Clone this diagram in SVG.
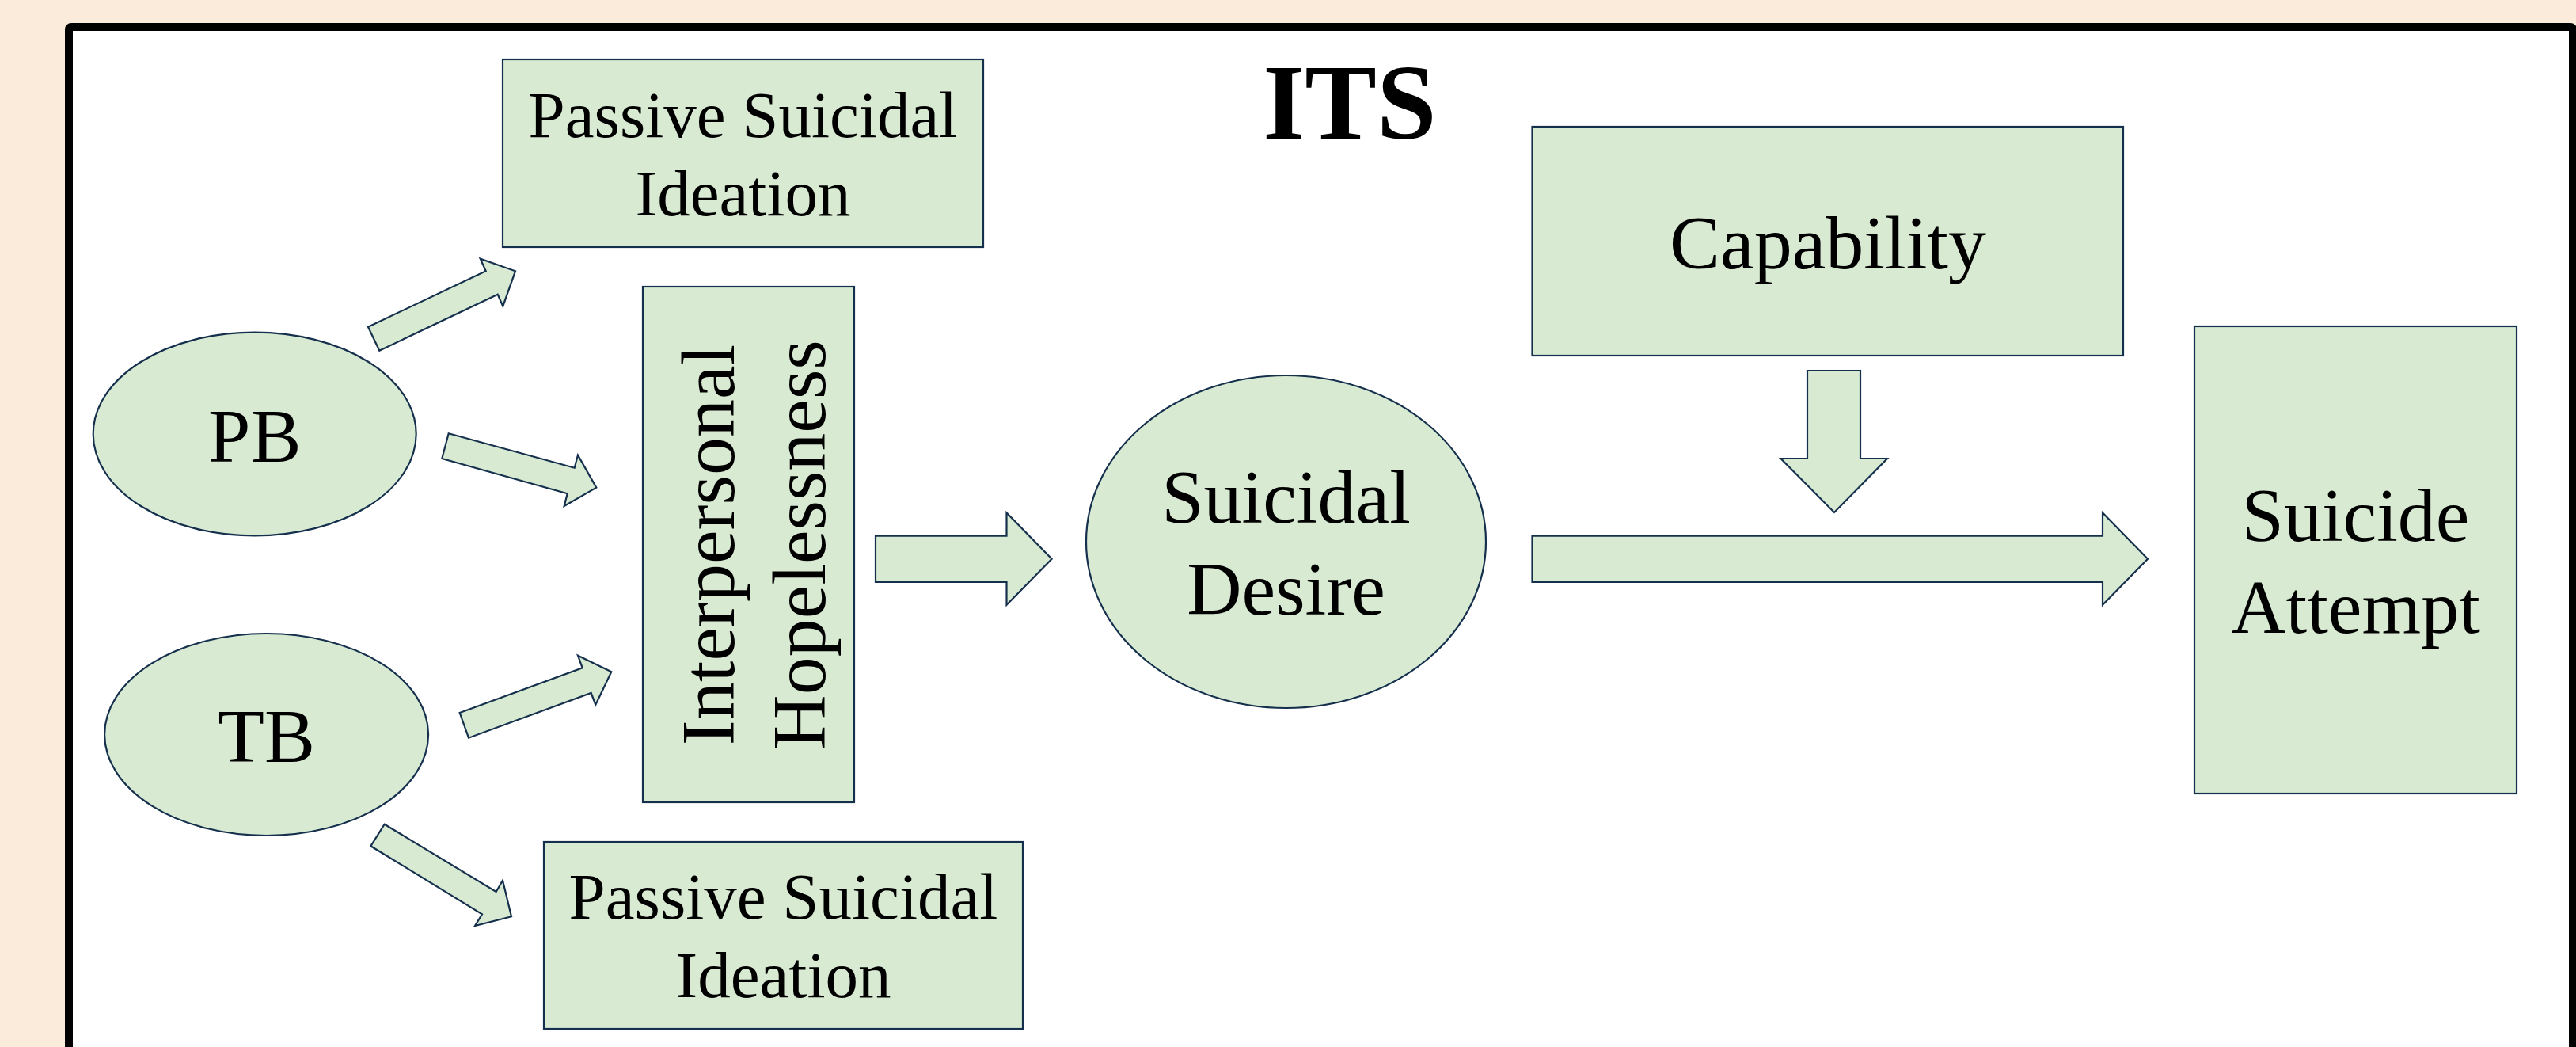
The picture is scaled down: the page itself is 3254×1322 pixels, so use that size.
<svg xmlns="http://www.w3.org/2000/svg" width="3254" height="1322" viewBox="0 0 3254 1322">
<style>
.shape{fill:#D9EAD3;stroke:#15304D;stroke-width:2.2;stroke-linejoin:miter}
.t{font-family:"Liberation Serif","Times New Roman",serif;fill:#000;text-anchor:middle}
.m{font-size:96px}
.s{font-size:83px}
.title{font-size:136px;font-weight:bold}
</style>
<rect x="0" y="0" width="3254" height="1322" fill="#FAEBDA"/>
<rect id="frame" x="87" y="34" width="3163" height="1400" rx="3" fill="#FFFFFF" stroke="#000000" stroke-width="10"/>
<text class="t title" x="1705" y="175">ITS</text>

<g id="connectors">
  <polygon class="shape" points="465,412.7 613.7,342.3 606.7,326.7 651,342.3 635.3,386.7 628.7,371.7 479.3,442.7"/>
  <polygon class="shape" points="566.7,547.3 725.7,590.7 730,574.7 753.3,615.7 712.7,639 716.7,623.3 558.3,579"/>
  <polygon class="shape" points="580.7,900 735.7,843.3 730,827.7 772.3,848.3 752.3,890 746.7,875 592,931.7"/>
  <polygon class="shape" points="485.7,1040.7 626.7,1126 635,1111.7 646,1157.3 600,1169 609,1154.3 468.3,1068.3"/>
  <polygon class="shape" points="1106,676.6 1271.5,676.6 1271.5,647.5 1328.6,705.7 1271.5,763.8 1271.5,734.8 1106,734.8"/>
  <polygon class="shape" points="1935.5,676.6 2656,676.6 2656,647.5 2713,705.7 2656,763.8 2656,734.8 1935.5,734.8"/>
  <polygon class="shape" points="2283,468 2350,468 2350,579 2384,579 2317,647 2249.5,579 2283,579"/>
</g>

<g id="node-pb">
  <ellipse class="shape" cx="321.7" cy="548" rx="204" ry="128.4"/>
  <text class="t m" x="321.7" y="582.6">PB</text>
</g>
<g id="node-tb">
  <ellipse class="shape" cx="336.6" cy="927.5" rx="204.5" ry="127.5"/>
  <text class="t m" x="336.6" y="961.6">TB</text>
</g>
<g id="node-psi-top">
  <rect class="shape" x="635" y="75" width="607" height="237"/>
  <text class="t s" x="938.5" y="173">Passive Suicidal</text>
  <text class="t s" x="938.5" y="272">Ideation</text>
</g>
<g id="node-psi-bottom">
  <rect class="shape" x="687" y="1063" width="605" height="236"/>
  <text class="t s" x="989.5" y="1160">Passive Suicidal</text>
  <text class="t s" x="989.5" y="1258.6">Ideation</text>
</g>
<g id="node-ih">
  <rect class="shape" x="812" y="362" width="267" height="651"/>
  <text class="t m" transform="translate(926.5,688) rotate(-90)" x="0" y="0">Interpersonal</text>
  <text class="t m" transform="translate(1042.3,688) rotate(-90)" x="0" y="0">Hopelessness</text>
</g>
<g id="node-sd">
  <ellipse class="shape" cx="1624.5" cy="684" rx="252.5" ry="210"/>
  <text class="t m" x="1624.5" y="660">Suicidal</text>
  <text class="t m" x="1624.5" y="776.4">Desire</text>
</g>
<g id="node-cap">
  <rect class="shape" x="1935.5" y="160" width="746.5" height="289"/>
  <text class="t m" x="2309" y="339">Capability</text>
</g>
<g id="node-sa">
  <rect class="shape" x="2772" y="412" width="407" height="590"/>
  <text class="t m" x="2975.5" y="683">Suicide</text>
  <text class="t m" x="2975.5" y="799">Attempt</text>
</g>
</svg>
